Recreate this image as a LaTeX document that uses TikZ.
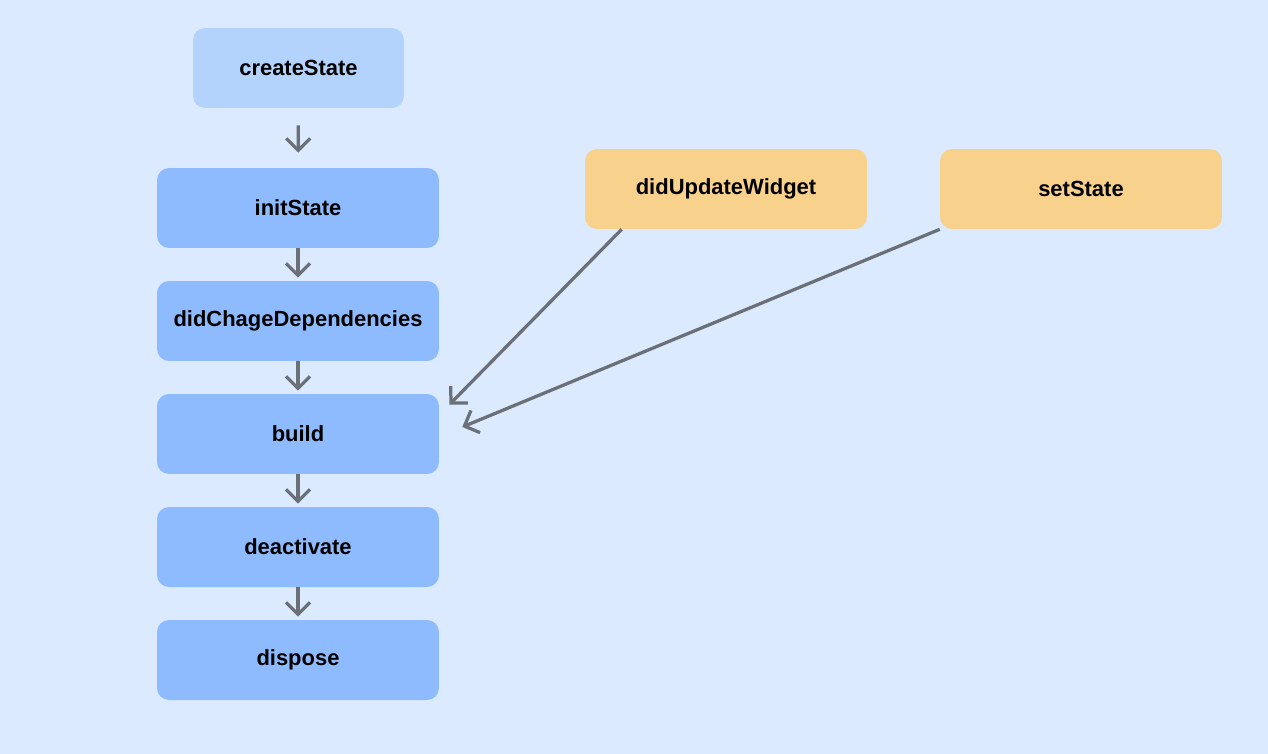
\documentclass[tikz,border=0pt]{standalone}
\usepackage{fontspec}
\setmainfont{Liberation Sans}
\usepackage{tikz}
\usetikzlibrary{arrows.meta, positioning}
\usepackage{xcolor}
\definecolor{bgblue}{HTML}{DBEAFE}
\definecolor{paleblue}{HTML}{B3D3FC}
\definecolor{boxblue}{HTML}{8EBBFD}
\definecolor{boxyellow}{HTML}{F8D28C}
\definecolor{arrowgray}{HTML}{6B6F76}

\begin{document}
\begin{tikzpicture}[
    x=0.02cm, y=-0.02cm,
    stage/.style={rounded corners=0.24cm, minimum width=5.64cm, minimum height=1.6cm, align=center, font=\bfseries\fontsize{12.5}{15}\selectfont, fill=boxblue},
    trigger/.style={stage, fill=boxyellow},
    arrow/.style={-{Straight Barb[length=0.24cm, width=0.48cm]}, line width=0.065cm, arrowgray}
]
    % 背景
    \fill[bgblue] (0,0) rectangle (1268,754);
    \useasboundingbox (0,0) rectangle (1268,754);

    % 生命周期
    \node[stage, fill=paleblue, minimum width=4.22cm] (create) at (298.5,68) {createState};
    \node[stage] (init) at (298,208) {initState};
    \node[stage] (deps) at (298,321) {didChageDependencies};
    \node[stage] (build) at (298,434) {build};
    \node[stage] (deact) at (298,547) {deactivate};
    \node[stage] (dispose) at (298,660) {dispose};

    % 触发
    \node[trigger] (update) at (726,189) {didUpdateWidget};
    \node[trigger] (set) at (1081,189) {setState};

    % 箭头
    \draw[arrow, shorten <=0.34cm, shorten >=0.3cm] (create) -- (init);
    \draw[arrow, shorten >=0.06cm] (init) -- (deps);
    \draw[arrow, shorten >=0.06cm] (deps) -- (build);
    \draw[arrow, shorten >=0.06cm] (build) -- (deact);
    \draw[arrow, shorten >=0.06cm] (deact) -- (dispose);

    \draw[arrow] ([xshift=0.74cm]update.south west) -- ([xshift=0.2cm, yshift=-0.22cm]build.north east);
    \draw[arrow] (set.south west) -- ([xshift=0.46cm, yshift=0.14cm]build.east);
\end{tikzpicture}
\end{document}
